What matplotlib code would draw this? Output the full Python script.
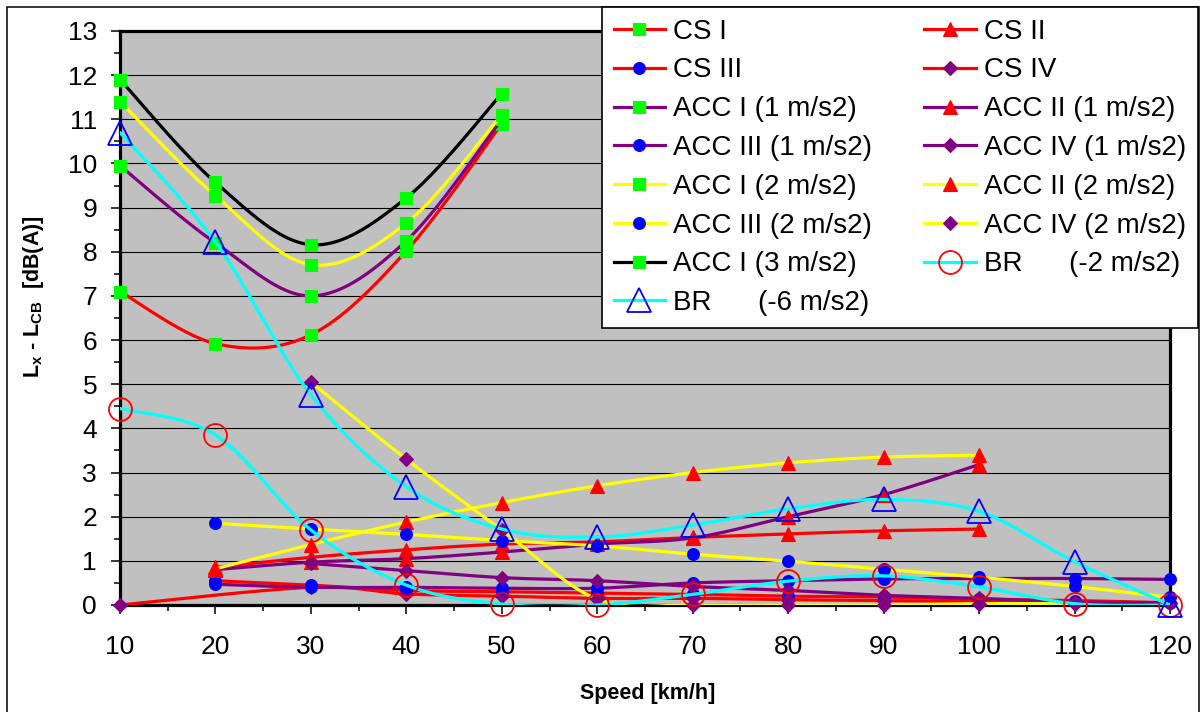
import numpy as np
import matplotlib
matplotlib.use("Agg")
import matplotlib.pyplot as plt
from matplotlib.lines import Line2D
from matplotlib.patches import Rectangle

plt.rcParams['font.family'] = ['Liberation Sans', 'DejaVu Sans']
plt.rcParams['mathtext.fontset'] = 'custom'
plt.rcParams['mathtext.rm'] = 'Liberation Sans'
plt.rcParams['mathtext.bf'] = 'Liberation Sans:bold'

# 数据
speed_all = [10, 20, 30, 40, 50, 60, 70, 80, 90, 100, 110, 120]
speed_i = [10, 20, 30, 40, 50]
speed_ii = [20, 30, 40, 50, 60, 70, 80, 90, 100]
speed_iii = [20, 30, 40, 50, 60, 70, 80, 90, 100, 110, 120]
speed_cs4 = [10, 30, 40, 50, 60, 70, 80, 90, 100, 110, 120]
speed_acc4_1 = [30, 40, 50, 60, 70, 80, 90, 100, 110, 120]
speed_acc4_2 = [30, 40, 50, 60, 70, 80, 90, 100, 110]

cs1 = [7.1, 5.92, 6.12, 8.02, 10.9]
cs2 = [0.85, 1.08, 1.25, 1.38, 1.43, 1.53, 1.61, 1.68, 1.72]
cs3 = [0.55, 0.45, 0.33, 0.3, 0.27, 0.24, 0.2, 0.18, 0.13, 0.1, 0.05]
cs4 = [0.0, 0.4, 0.25, 0.2, 0.15, 0.15, 0.12, 0.1, 0.08, 0.05, 0.04]
acc1_1 = [9.95, 8.2, 7.0, 8.25, 11.0]
acc2_1 = [0.8, 0.97, 1.05, 1.2, 1.38, 1.52, 2.0, 2.5, 3.18]
acc3_1 = [0.47, 0.4, 0.4, 0.38, 0.38, 0.5, 0.55, 0.59, 0.6, 0.6, 0.58]
acc4_1 = [0.94, 0.78, 0.62, 0.55, 0.42, 0.33, 0.22, 0.15, 0.07, 0.05]
acc1_2 = [11.4, 9.27, 7.71, 8.65, 11.1]
acc2_2 = [0.82, 1.37, 1.88, 2.32, 2.7, 3.0, 3.22, 3.35, 3.39]
acc3_2 = [1.85, 1.72, 1.6, 1.46, 1.34, 1.15, 0.99, 0.81, 0.63, 0.42, 0.17]
acc4_2 = [5.05, 3.3, 1.7, 0.13, 0.0, 0.0, 0.0, 0.03, 0.03]
acc1_3 = [11.9, 9.57, 8.16, 9.22, 11.58]
br_2 = [4.45, 3.85, 1.7, 0.45, 0.02, 0.0, 0.24, 0.54, 0.66, 0.41, 0.03, 0.0]
br_6 = [10.7, 8.22, 4.76, 2.68, 1.72, 1.54, 1.81, 2.18, 2.39, 2.12, 0.98, 0.0]

RED, GREEN, BLUE = "#FF0000", "#00FF00", "#0000FF"
PURPLE, YELLOW, CYAN = "#800080", "#FFFF00", "#00FFFF"


def smooth(xs, ys, n=24):
    # 类似 Excel 的平滑线 (Catmull-Rom -> Bezier)
    p = np.column_stack([xs, ys]).astype(float)
    ext = np.vstack([p[0], p, p[-1]])
    t = np.linspace(0, 1, n)[:, None]
    out = []
    for i in range(len(p) - 1):
        p0, p1, p2, p3 = ext[i], ext[i + 1], ext[i + 2], ext[i + 3]
        c1 = p1 + (p2 - p0) / 6
        c2 = p2 - (p3 - p1) / 6
        seg = ((1 - t) ** 3) * p1 + 3 * ((1 - t) ** 2) * t * c1 + 3 * (1 - t) * t ** 2 * c2 + t ** 3 * p2
        out.append(seg if i == 0 else seg[1:])
    out = np.vstack(out)
    return out[:, 0], out[:, 1]


# (标签, x, y, 线色, 标记, 标记色, 大小, 空心)
series = [
    ("CS I", speed_i, cs1, RED, "s", GREEN, 8, False),
    ("CS II", speed_ii, cs2, RED, "^", RED, 9.5, False),
    ("CS III", speed_iii, cs3, RED, "o", BLUE, 8.5, False),
    ("CS IV", speed_cs4, cs4, RED, "D", PURPLE, 7.5, False),
    ("ACC I (1 m/s2)", speed_i, acc1_1, PURPLE, "s", GREEN, 8, False),
    ("ACC II (1 m/s2)", speed_ii, acc2_1, PURPLE, "^", RED, 9.5, False),
    ("ACC III (1 m/s2)", speed_iii, acc3_1, PURPLE, "o", BLUE, 8.5, False),
    ("ACC IV (1 m/s2)", speed_acc4_1, acc4_1, PURPLE, "D", PURPLE, 7.5, False),
    ("ACC I (2 m/s2)", speed_i, acc1_2, YELLOW, "s", GREEN, 8, False),
    ("ACC II (2 m/s2)", speed_ii, acc2_2, YELLOW, "^", RED, 9.5, False),
    ("ACC III (2 m/s2)", speed_iii, acc3_2, YELLOW, "o", BLUE, 8.5, False),
    ("ACC IV (2 m/s2)", speed_acc4_2, acc4_2, YELLOW, "D", PURPLE, 7.5, False),
    ("ACC I (3 m/s2)", speed_i, acc1_3, "black", "s", GREEN, 8, False),
    ("BR      (-2 m/s2)", speed_all, br_2, CYAN, "o", RED, 16.5, True),
    ("BR      (-6 m/s2)", speed_all, br_6, CYAN, "^", BLUE, 17, True),
]

fig = plt.figure(figsize=(12, 7.12), dpi=100)
ax = fig.add_axes([120 / 1200, 1 - 605 / 712, 1050 / 1200, 574 / 712])
ax.set_facecolor("#C0C0C0")

handles = []
for k, (label, xs, ys, lc, mk, mc, ms, hollow) in enumerate(series):
    sx, sy = smooth(xs, ys)
    z = 3 + k * 0.05
    ax.plot(sx, sy, color=lc, lw=2.3, zorder=z, solid_capstyle="round")
    mfc = "none" if hollow else mc
    mew = 1.3 if hollow else 0.8
    ax.plot(xs, ys, ls="none", marker=mk, ms=ms, mfc=mfc, mec=mc, mew=mew,
            zorder=z + 0.01, clip_on=False)
    handles.append(Line2D([], [], color=lc, lw=2.3, marker=mk, ms=ms,
                          mfc=mfc, mec=mc, mew=mew, label=label))

ax.set_xlim(10, 120)
ax.set_ylim(0, 13)
ax.set_xticks(range(10, 121, 10))
ax.set_xticks(range(15, 120, 10), minor=True)
ax.set_yticks(range(0, 14))
ax.set_yticks(np.arange(0.5, 13, 1), minor=True)
ax.tick_params(which="major", direction="out", length=6.5, width=1.1,
               labelsize=19, color="black")
ax.tick_params(which="minor", direction="out", length=4, width=1.1)
ax.tick_params(axis="y", which="major", pad=10)
ax.tick_params(axis="x", which="major", pad=15)
ax.grid(axis="y", which="major", color="black", lw=0.8)
ax.set_axisbelow(True)
for sp in ax.spines.values():
    sp.set_linewidth(2.3)
    sp.set_zorder(2.5)

fig.text(648 / 1200, 1 - 694 / 712, "Speed [km/h]", ha="center", va="center",
         fontsize=15.5, fontweight="bold")
fig.text(34 / 1200, 1 - 297 / 712, r"$\mathbf{L_x}$ - $\mathbf{L_{CB}}$  [dB(A)]",
         ha="center", va="center", rotation=90, fontsize=15.5, fontweight="bold")

# 图例: 按行排列 (两列)
order = [0, 2, 4, 6, 8, 10, 12, 14, 1, 3, 5, 7, 9, 11, 13]
leg = fig.legend([handles[i] for i in order], [handles[i].get_label() for i in order],
                 ncol=2, loc="upper left", mode="expand",
                 bbox_to_anchor=(602 / 1200, 1 - 328 / 712, 596 / 1200, 321 / 712),
                 bbox_transform=fig.transFigure, borderaxespad=0, fontsize=20,
                 handlelength=1.85, handletextpad=0.3, labelspacing=0.46,
                 borderpad=0.42, fancybox=False, framealpha=1, edgecolor="black")
leg.get_frame().set_linewidth(1.2)

fig.add_artist(Rectangle((7 / 1200, -0.05), 1192 / 1200, 1 - 7 / 712 + 0.05,
                         transform=fig.transFigure, fill=False, ec="black", lw=1.1,
                         zorder=-1))

fig.savefig("out.png", dpi=100)
